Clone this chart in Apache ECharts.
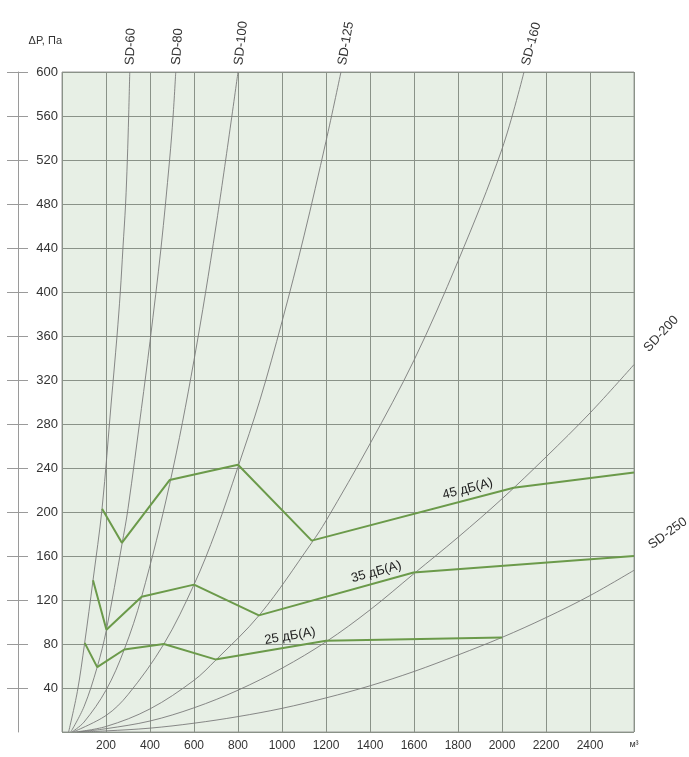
<!DOCTYPE html>
<html><head><meta charset="utf-8">
<script src="https://cdn.jsdelivr.net/npm/echarts@6/dist/echarts.min.js"></script>
<style>html,body{margin:0;padding:0;background:#fff}#c{width:689px;height:757px}</style>
</head><body><div id="c"></div>
<script>
// ---- data ----
const flowTicks = [200,400,600,800,1000,1200,1400,1600,1800,2000,2200,2400,2600];
const flowUnit = 'м³';
const pressureTicks = [40,80,120,160,200,240,280,320,360,400,440,480,520,560,600];
const yName = 'ΔP, Па';

const sdNames = ['SD-60','SD-80','SD-100','SD-125','SD-160','SD-200','SD-250'];
const sd60  = [[30,0],[70,37],[103,81],[141,138],[182,203],[224,300],[250,360],[265,400],[277,440],[289,480],[297,520],[303,560],[308,600]];
const sd80  = [[40,0],[100,23],[160,59],[202,93],[272,170],[300,203],[361,294],[400,355],[450,440],[489,520],[505,560],[517,600]];
const sd100 = [[45,0],[100,9],[200,38],[283,75],[362,123],[489,225],[600,338],[700,460],[800,600]];
const sd125 = [[50,0],[200,15],[300,34],[463,80],[600,134],[700,183],[800,241],[900,302],[1000,373],[1100,451],[1200,537],[1268,600]];
const sd160 = [[60,0],[200,5],[400,21],[600,47],[697,65],[900,107],[1135,172],[1200,192],[1400,262],[1600,338],[1800,428],[2000,530],[2100,600]];
const sd200 = [[70,0],[200,3],[400,10],[600,22],[800,38],[1000,58],[1200,82],[1400,111],[1600,144],[1800,177],[2000,212],[2200,250],[2400,290],[2600,334]];
const sd250 = [[80,0],[200,1],[400,3.5],[600,8],[800,14],[1000,21.5],[1200,31],[1400,42],[1600,55],[1800,70],[2000,86],[2200,104],[2400,124],[2600,147]];

const noiseNames = ['45 дБ(A)','35 дБ(A)','25 дБ(A)'];
const db45 = [[182,203],[272,172],[489,229],[800,243],[1135,174],[2053,222],[2600,236]];
const db35 = [[141,138],[202,93],[362,123],[600,134],[895,106],[1598,145],[2600,160]];
const db25 = [[103,81],[160,59],[283,75],[463,80],[697,66],[1200,83],[2000,86]];

// ---- styles ----
const FONT = '"Liberation Sans", Arial, sans-serif';
const sdCurves = [sd60, sd80, sd100, sd125, sd160, sd200, sd250];
const sdLabelRotate = [88, 86, 84, 80, 75, 47, 36];
const sdLabelOffset = [[7,0],[7,0],[7,0],[7,0],[7,0],[19,-1],[27,-10]];
const noiseCurves = [db45, db35, db25];
const noiseLabelSeg = [4, 4, 4];
const noiseLabelDist = [[19,4],[10,4],[9,4]];

const series = [];
sdCurves.forEach((d, i) => {
  series.push({
    type: 'line', name: sdNames[i], data: d, smooth: 0.35,
    symbol: 'none', silent: true, z: 2,
    lineStyle: { color: '#7a7a7a', width: 0.9 },
    endLabel: {
      show: true, formatter: () => sdNames[i], rotate: sdLabelRotate[i],
      align: 'left', verticalAlign: 'middle', offset: sdLabelOffset[i], distance: 0,
      color: '#333', fontSize: 13, fontFamily: FONT
    }
  });
});
noiseCurves.forEach((d, i) => {
  const s = noiseLabelSeg[i];
  series.push({
    type: 'line', name: noiseNames[i], data: d, symbol: 'none', silent: true, z: 3,
    lineStyle: { color: '#6b9a4a', width: 2 },
    markLine: {
      silent: true, symbol: 'none', animation: false,
      lineStyle: { color: 'rgba(0,0,0,0)', width: 1, type: 'solid' },
      label: { show: true, position: 'insideEndTop', formatter: noiseNames[i],
               distance: noiseLabelDist[i], color: '#222', fontSize: 13, fontFamily: FONT },
      data: [[{ coord: d[s] }, { coord: d[s + 1] }]]
    }
  });
});

const yBase = { type: 'value', min: 0, max: 600, interval: 40, gridIndex: 0 };
const option = {
  animation: false,
  backgroundColor: '#fff',
  grid: { left: 62, right: 55, top: 72, bottom: 25, show: true,
          backgroundColor: '#e7efe5', borderColor: '#9a9a9a', borderWidth: 1 },
  xAxis: {
    type: 'value', min: 0, max: 2600, interval: 200,
    axisLine: { show: false }, axisTick: { show: false },
    splitLine: { show: true, lineStyle: { color: '#8a9288', width: 1 } },
    axisLabel: { customValues: flowTicks, margin: 8, color: '#333', fontSize: 12, fontFamily: FONT,
      formatter: v => v === 2600 ? '{u|' + flowUnit + '}' : String(v),
      rich: { u: { fontSize: 9, color: '#333', fontFamily: FONT } } }
  },
  yAxis: [
    Object.assign({}, yBase, {
      name: yName, nameLocation: 'end', nameGap: 26,
      nameTextStyle: { align: 'right', color: '#333', fontSize: 11, fontFamily: FONT },
      axisLine: { show: false }, axisTick: { show: false },
      splitLine: { show: true, lineStyle: { color: '#8a9288', width: 1 } },
      axisLabel: { customValues: pressureTicks, margin: 4, color: '#333', fontSize: 13, fontFamily: FONT }
    }),
    Object.assign({}, yBase, {
      position: 'left', offset: 44,
      axisLine: { show: true, lineStyle: { color: '#9a9a9a', width: 1 } },
      axisTick: { show: true, length: 11, customValues: pressureTicks, lineStyle: { color: '#9a9a9a' } },
      axisLabel: { show: false }, splitLine: { show: false }
    }),
    Object.assign({}, yBase, {
      position: 'left', offset: 34,
      axisLine: { show: false },
      axisTick: { show: true, length: 10, customValues: pressureTicks, lineStyle: { color: '#9a9a9a' } },
      axisLabel: { show: false }, splitLine: { show: false }
    })
  ],
  series: series
};
const chart = echarts.init(document.getElementById('c'), null, { renderer: 'canvas' });
chart.setOption(option);
</script></body></html>
